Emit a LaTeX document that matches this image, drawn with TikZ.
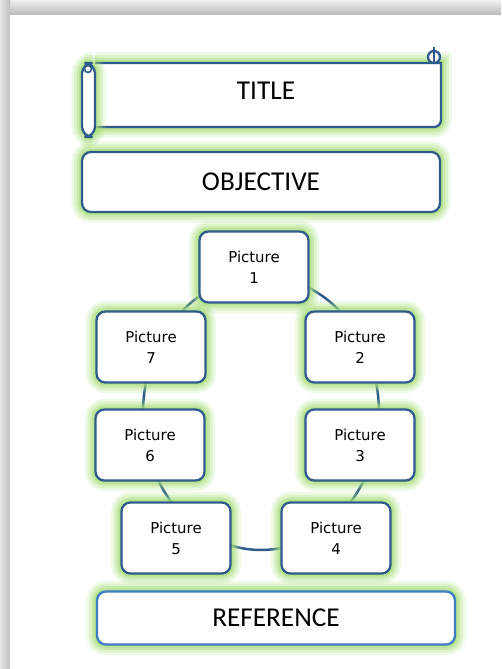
\documentclass[tikz,border=0pt]{standalone}
\usepackage{fontspec}
\setmainfont{Carlito}
\newfontfamily\labelfont{DejaVu Sans}
\usetikzlibrary{positioning}
\definecolor{boxblue}{HTML}{2F5B8A}
\definecolor{refblue}{HTML}{3C7CC4}
\definecolor{glowgreen}{HTML}{A6DE78}

\begin{document}
\begin{tikzpicture}[x=0.02cm,y=-0.02cm,
  glow/.style={preaction={draw=glowgreen,line width=12pt,opacity=0.18},
               preaction={draw=glowgreen,line width=9pt,opacity=0.25},
               preaction={draw=glowgreen,line width=6pt,opacity=0.35},
               preaction={draw=glowgreen,line width=3.5pt,opacity=0.5}},
  box/.style={draw=boxblue,line width=1.3pt,fill=white,rounded corners=5pt,glow},
  picbox/.style={box,minimum width=2.18cm,minimum height=1.42cm,align=center,
                 font=\labelfont\fontsize{8.5}{12}\selectfont},
  bigbox/.style={box,minimum width=7.16cm,minimum height=1.2cm,
                 font=\fontsize{15.5}{18}\selectfont}]
\useasboundingbox (0,0) rectangle (501,669);
% page and its shadow
\shade[top color=gray!12,bottom color=gray!55] (0,0) rectangle (501,15);
\shade[left color=gray!20,right color=gray!50] (0,0) rectangle (10,669);
\fill[white] (10,15) rectangle (501,669);

% title scroll
\draw[boxblue,line width=1.3pt,fill=white,glow] (95,63) -- (441,63) -- (441,120)
  to[out=-90,in=0] (434,127) -- (95,127);
\draw[boxblue,line width=1.3pt,fill=white,glow,rounded corners=6pt] (82,63) rectangle (95,137);
\draw[boxblue,line width=0.9pt] (88,69) circle [radius=0.07cm];
\draw[boxblue,line width=1.3pt,fill=white] (434,57) circle [radius=0.12cm];
\draw[boxblue,line width=1.1pt] (434,47) -- (434,62);
\node[font=\fontsize{15.5}{18}\selectfont] (title) at (266,91) {TITLE};

\node[bigbox] (obj) at (261,182) {OBJECTIVE};

% ring behind the pictures
\draw[boxblue,line width=1.4pt] (261,413) ellipse [x radius=2.36cm,y radius=2.74cm];

\node[picbox] (p1) at (254,267) {Picture\\1};
\node[picbox] (p2) at (360,347) {Picture\\2};
\node[picbox] (p3) at (360,445) {Picture\\3};
\node[picbox] (p4) at (336,538) {Picture\\4};
\node[picbox] (p5) at (176,538) {Picture\\5};
\node[picbox] (p6) at (150,445) {Picture\\6};
\node[picbox] (p7) at (151,347) {Picture\\7};

\node[bigbox,draw=refblue,minimum height=1.06cm] (ref) at (276,618) {REFERENCE};
\end{tikzpicture}
\end{document}
